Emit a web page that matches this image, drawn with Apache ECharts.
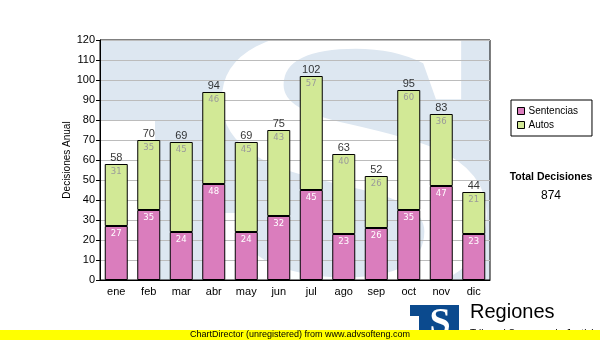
<!DOCTYPE html>
<html>
<head>
<meta charset="utf-8">
<script src="https://cdn.jsdelivr.net/npm/echarts@6/dist/echarts.min.js"></script>
<style>
  html, body { margin: 0; padding: 0; background: #fff; }
  #chart { width: 600px; height: 340px; }
</style>
</head>
<body>
<div id="chart"></div>
<script>
// Decisiones por mes
var meses = ['ene', 'feb', 'mar', 'abr', 'may', 'jun', 'jul', 'ago', 'sep', 'oct', 'nov', 'dic'];
var sentencias = [27, 35, 24, 48, 24, 32, 45, 23, 26, 35, 47, 23];
var autos = [31, 35, 45, 46, 45, 43, 57, 40, 26, 60, 36, 21];

var totales = meses.map(function (m, i) { return sentencias[i] + autos[i]; });
var totalDecisiones = totales.reduce(function (a, b) { return a + b; }, 0);

var AXIS_FONT = '"Liberation Sans", Arial, sans-serif';
var SMALL_FONT = '"DejaVu Sans", Verdana, sans-serif';

var chart = echarts.init(document.getElementById('chart'), null, { renderer: 'canvas' });

chart.setOption({
  animation: false,
  backgroundColor: '#ffffff',
  grid: {
    left: 100, right: 110, top: 40, bottom: 60,
    show: true, borderColor: '#000', borderWidth: 1, backgroundColor: 'transparent'
  },
  legend: {
    data: ['Sentencias', 'Autos'],
    orient: 'vertical',
    left: 511, top: 100,
    padding: [5, 14, 5, 6],
    itemGap: 2,
    itemWidth: 7, itemHeight: 7,
    icon: 'rect',
    borderColor: '#000', borderWidth: 1, backgroundColor: '#fff',
    itemStyle: { borderColor: '#000', borderWidth: 1 },
    textStyle: { fontFamily: AXIS_FONT, fontSize: 10, color: '#000', lineHeight: 12, padding: [0, 0, 0, -1] }
  },
  xAxis: {
    type: 'category',
    data: meses,
    axisLine: { lineStyle: { color: '#000', width: 1 } },
    axisTick: { alignWithLabel: true, length: 4, lineStyle: { color: '#000' } },
    axisLabel: { color: '#000', fontFamily: AXIS_FONT, fontSize: 11, margin: 6 },
    splitLine: { show: false }
  },
  yAxis: {
    type: 'value',
    min: 0, max: 120, interval: 10,
    name: 'Decisiones Anual',
    nameLocation: 'middle',
    nameGap: 28,
    nameMoveOverlap: false,
    nameTextStyle: { color: '#000', fontFamily: AXIS_FONT, fontSize: 10 },
    axisLine: { show: true, lineStyle: { color: '#000', width: 1 } },
    axisTick: { show: true, length: 4, lineStyle: { color: '#000' } },
    axisLabel: { color: '#000', fontFamily: AXIS_FONT, fontSize: 11, margin: 5 },
    splitLine: { lineStyle: { color: '#bcbcbc', width: 1 } }
  },
  series: [
    {
      name: 'Sentencias',
      type: 'bar',
      stack: 'total',
      barWidth: 23,
      data: sentencias,
      itemStyle: { color: '#da7dbd', borderColor: '#000', borderWidth: 1 },
      label: {
        show: true, position: 'insideTop', distance: 3,
        color: '#ffffff', fontFamily: SMALL_FONT, fontSize: 8.5
      }
    },
    {
      name: 'Autos',
      type: 'bar',
      stack: 'total',
      barWidth: 23,
      data: autos,
      itemStyle: { color: '#d2e996', borderColor: '#000', borderWidth: 1 },
      label: {
        show: true, position: 'insideTop', distance: 3,
        color: '#9a9a9a', fontFamily: SMALL_FONT, fontSize: 8.5
      }
    },
    {
      name: 'Total',
      type: 'scatter',
      data: totales,
      symbolSize: 0,
      silent: true,
      label: {
        show: true, position: 'top', distance: 1,
        color: '#000', fontFamily: AXIS_FONT, fontSize: 11
      }
    }
  ],
  graphic: [
    // watermark behind the plot: light blue field with a white S
    { type: 'rect', z: -10, shape: { x: 100, y: 40, width: 390, height: 240 }, style: { fill: '#dde7f1' } },
    { type: 'rect', z: -9, shape: { x: 100, y: 120, width: 55, height: 160 }, style: { fill: '#ffffff' } },
    {
      type: 'text', z: -8, x: 350, y: 190, scaleX: 1.45, scaleY: 1,
      style: { text: 'S', x: 0, y: 0, font: 'bold 400px "Liberation Serif", serif', fill: '#ffffff', textAlign: 'center', textVerticalAlign: 'middle' }
    },
    // keep the watermark inside the plot frame
    { type: 'rect', z: -7, shape: { x: 0, y: 281, width: 600, height: 60 }, style: { fill: '#ffffff' } },
    { type: 'rect', z: -7, shape: { x: 491, y: 0, width: 110, height: 281 }, style: { fill: '#ffffff' } },
    { type: 'rect', z: -7, shape: { x: 0, y: 0, width: 99, height: 281 }, style: { fill: '#ffffff' } },
    { type: 'rect', z: -7, shape: { x: 0, y: 0, width: 600, height: 39 }, style: { fill: '#ffffff' } },

    // total
    { type: 'text', z: 5, style: { text: 'Total Decisiones', x: 551, y: 177, font: 'bold 10.5px ' + AXIS_FONT, fill: '#000', textAlign: 'center', textVerticalAlign: 'middle' } },
    { type: 'text', z: 5, style: { text: String(totalDecisiones), x: 551, y: 196, font: '12px ' + AXIS_FONT, fill: '#000', textAlign: 'center', textVerticalAlign: 'middle' } },

    // logo
    { type: 'rect', z: 5, shape: { x: 410, y: 305, width: 49, height: 30 }, style: { fill: '#0b4a8e' } },
    { type: 'rect', z: 5, shape: { x: 410, y: 316, width: 9, height: 20 }, style: { fill: '#ffffff' } },
    { type: 'text', z: 6, style: { text: 'S', x: 440, y: 324, font: 'bold 38px "Liberation Serif", serif', fill: '#ffffff', textAlign: 'center', textVerticalAlign: 'middle' } },
    { type: 'text', z: 5, style: { text: 'Regiones', x: 470, y: 322, font: '20px ' + AXIS_FONT, fill: '#000', textAlign: 'left', textVerticalAlign: 'bottom' } },
    { type: 'text', z: 5, style: { text: 'Tribunal Supremo de Justicia', x: 470, y: 329, font: '10px ' + AXIS_FONT, fill: '#000', textAlign: 'left', textVerticalAlign: 'top' } },

    // footer band
    { type: 'rect', z: 8, shape: { x: 0, y: 330, width: 600, height: 10 }, style: { fill: '#ffff00' } },
    { type: 'text', z: 9, style: { text: 'ChartDirector (unregistered) from www.advsofteng.com', x: 300, y: 335, font: '9px ' + AXIS_FONT, fill: '#000', textAlign: 'center', textVerticalAlign: 'middle' } }
  ]
});
</script>
</body>
</html>
